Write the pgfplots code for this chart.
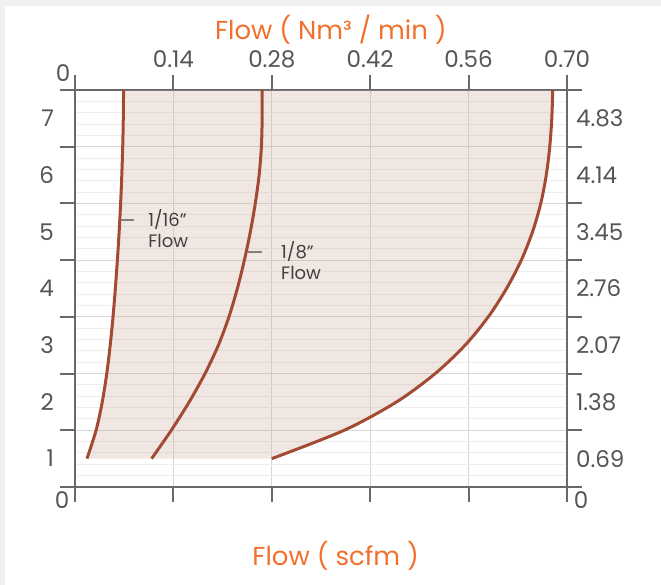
\documentclass[border=0pt]{standalone}
\usepackage{fontspec}
\setmainfont{Poppins}
\usepackage{pgfplots}
\pgfplotsset{compat=1.18}
\usepgfplotslibrary{fillbetween}
\definecolor{curve}{RGB}{163,74,50}
\definecolor{fillc}{RGB}{200,160,140}
\definecolor{axgray}{RGB}{105,105,105}
\definecolor{txt}{RGB}{85,85,85}
\definecolor{orng}{RGB}{242,112,45}
\definecolor{grd}{RGB}{215,215,215}
\definecolor{grdm}{RGB}{238,238,238}
\begin{document}
\begin{tikzpicture}
\path (-37.5pt,-49pt) rectangle (293pt,243.5pt);
\fill[gray!12] (-37.5pt,-49pt) rectangle (-35pt,243.5pt);
\fill[gray!12] (-35pt,240.5pt) rectangle (293pt,243.5pt);
\begin{axis}[
 scale only axis, width=246pt, height=198.5pt,
 xmin=0, xmax=0.70, ymin=0, ymax=7,
 axis line style={draw=axgray, line width=1pt},
 every tick/.style={draw=axgray, line width=1pt},
 tick align=outside, major tick length=7.5pt,
 xtick={0,0.14,0.28,0.42,0.56,0.70},
 xticklabels={,0.14,0.28,0.42,0.56,0.70},
 xticklabel pos=upper, xtick pos=both,
 ytick={0,1,2,3,4,5,6,7}, yticklabels={,,,,,,,},
 ytick pos=both,
 minor y tick num=4, minor tick length=0pt,
 xmajorgrids, ymajorgrids, yminorgrids,
 major grid style={draw=grd, line width=0.6pt},
 minor grid style={draw=grdm, line width=0.5pt},
 extra y ticks={0.5,1.5,2.5,3.5,4.5,5.5,6.5},
 extra y tick labels={1,2,3,4,5,6,7},
 extra y tick style={major tick length=0pt, grid=none, yticklabel pos=left, ytick pos=left,
   yticklabel style={xshift=-7pt}},
 tick label style={font=\fontsize{11.5}{13}\selectfont, text=txt},
 clip=false,
]
\addplot[name path=c1, draw=curve, line width=1.5pt, smooth] coordinates {
 (0.0170,0.5) (0.0300,1.0) (0.0388,1.5) (0.0452,2.0) (0.0501,2.5) (0.0541,3.0)
 (0.0574,3.5) (0.0603,4.0) (0.0628,4.5) (0.0649,5.0) (0.0666,5.5) (0.0679,6.0) (0.0687,6.5) (0.0691,7.0)};
\addplot[name path=c2, draw=curve, line width=1.5pt, smooth] coordinates {
 (0.1090,0.5) (0.1370,1.0) (0.1625,1.5) (0.1850,2.0) (0.2040,2.5) (0.2190,3.0)
 (0.2310,3.5) (0.2410,4.0) (0.2495,4.5) (0.2565,5.0) (0.2620,5.5) (0.2652,6.0) (0.2663,6.5) (0.2663,7.0)};
\addplot[name path=c3, draw=curve, line width=1.5pt, smooth] coordinates {
 (0.2800,0.5) (0.3830,1.0) (0.4575,1.5) (0.5125,2.0) (0.5550,2.5)
 (0.5880,3.0) (0.6140,3.5) (0.6350,4.0) (0.6510,4.5) (0.6627,5.0) (0.6705,5.5) (0.6755,6.0)
 (0.6784,6.5) (0.6797,7.0)};
\addplot[fill=fillc, fill opacity=0.25, draw=none] fill between[of=c1 and c3];
\addplot[draw=gray, line width=1pt] coordinates {(0.0654,4.708) (0.0839,4.708)};
\addplot[draw=gray, line width=1pt] coordinates {(0.2459,4.144) (0.2658,4.144)};
\node[anchor=north west, align=left, inner sep=0pt, font=\fontsize{9}{10.5}\selectfont, text=black!75] at (axis cs:0.1038,4.90) {1/16”\\Flow};
\node[anchor=north west, align=left, inner sep=0pt, font=\fontsize{9}{10.5}\selectfont, text=black!75] at (axis cs:0.2928,4.34) {1/8”\\Flow};
\node[font=\fontsize{11.5}{13}\selectfont, text=txt] at (rel axis cs:0,1) [xshift=-6pt, yshift=8.5pt] {0};
\node[font=\fontsize{11.5}{13}\selectfont, text=txt] at (rel axis cs:0,0) [xshift=-6.5pt, yshift=-6.5pt] {0};
\node[font=\fontsize{11.5}{13}\selectfont, text=txt] at (rel axis cs:1,0) [xshift=7pt, yshift=-6.5pt] {0};
\node[font=\fontsize{13}{15}\selectfont, text=orng] at (rel axis cs:0.52,1) [yshift=30pt] {Flow ( Nm³ / min )};
\node[font=\fontsize{13}{15}\selectfont, text=orng] at (rel axis cs:0.53,0) [yshift=-34.5pt] {Flow ( scfm )};
\end{axis}
\begin{axis}[
 scale only axis, width=246pt, height=198.5pt,
 xmin=0, xmax=0.70, ymin=0, ymax=7,
 hide x axis, axis y line*=right, y axis line style={draw=none},
 ytick={0.5,1.5,2.5,3.5,4.5,5.5,6.5},
 yticklabels={0.69,1.38,2.07,2.76,3.45,4.14,4.83},
 major tick length=0pt,
 yticklabel style={xshift=1pt},
 tick label style={font=\fontsize{11.5}{13}\selectfont, text=txt},
]
\addplot[draw=none] coordinates {(0,0) (0.7,7)};
\end{axis}
\end{tikzpicture}
\end{document}
